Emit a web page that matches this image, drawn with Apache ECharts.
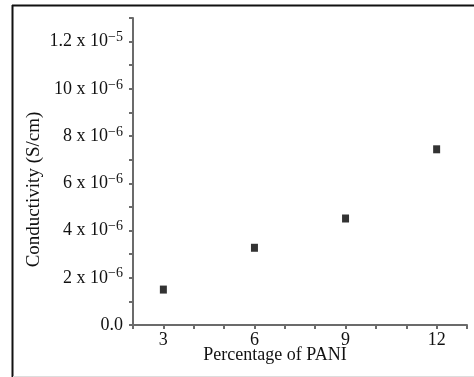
<!DOCTYPE html>
<html>
<head>
<meta charset="utf-8">
<script src="https://cdn.jsdelivr.net/npm/echarts@6/dist/echarts.min.js"></script>
<style>
  html, body { margin: 0; padding: 0; background: #fff; }
  #chart { width: 474px; height: 377px; }
</style>
</head>
<body>
<div id="chart"></div>
<script>
// PANI loading (%) and measured conductivity, stored in units of 10^-6 S/cm
const paniPercent = [3, 6, 9, 12];
const conductivityE6 = [1.50, 3.27, 4.51, 7.44];
const xTickLabels = [3, 6, 9, 12];
const yTickLabels = [0, 2, 4, 6, 8, 10, 12];

const serif = '"Liberation Serif", "DejaVu Serif", serif';

function yLabel(v) {
  const n = Math.round(v);
  if (!yTickLabels.includes(n) || Math.abs(v - n) > 1e-9) return '';
  if (n === 0) return '{b|0.0}';
  if (n === 12) return '{b|1.2 x 10}{s|\u22125}';
  return '{b|' + n + ' x 10}{s|\u22126}';
}

const chart = echarts.init(document.getElementById('chart'), null, { renderer: 'canvas' });
chart.setOption({
  animation: false,
  backgroundColor: '#fff',
  grid: { left: 133, top: 18, right: 7, bottom: 52, containLabel: false },
  xAxis: {
    type: 'value',
    min: 2, max: 13, interval: 1,
    name: 'Percentage of PANI',
    nameLocation: 'middle',
    nameGap: 21,
    nameMoveOverlap: false,
    nameTextStyle: { fontFamily: serif, fontSize: 18, color: '#111', padding: [0, 50, 0, 0] },
    axisLine: { show: true, lineStyle: { color: '#6b6b6b', width: 2 } },
    axisTick: { show: true, length: 4, lineStyle: { color: '#6b6b6b', width: 2 } },
    axisLabel: {
      margin: 6,
      fontFamily: serif, fontSize: 18, color: '#111',
      formatter: v => (xTickLabels.includes(v) ? String(v) : '')
    },
    splitLine: { show: false }
  },
  yAxis: {
    type: 'value',
    min: 0, max: 13, interval: 1,
    name: 'Conductivity (S/cm)',
    nameLocation: 'middle',
    nameGap: 89,
    nameMoveOverlap: false,
    nameRotate: 90,
    nameTextStyle: { fontFamily: serif, fontSize: 19, color: '#111', padding: [0, 36, 0, 0] },
    axisLine: { show: true, lineStyle: { color: '#6b6b6b', width: 2 } },
    axisTick: { show: true, length: 4, lineStyle: { color: '#6b6b6b', width: 2 } },
    axisLabel: {
      margin: 10,
      formatter: yLabel,
      rich: {
        b: { fontFamily: serif, fontSize: 18, color: '#111' },
        s: { fontFamily: serif, fontSize: 14, color: '#111', padding: [0, 0, 8, 0] }
      }
    },
    splitLine: { show: false }
  },
  series: [{
    type: 'scatter',
    symbol: 'rect',
    symbolSize: [7, 8],
    itemStyle: { color: '#000' },
    data: paniPercent.map((p, i) => [p, conductivityE6[i]])
  }],
  graphic: [
    { type: 'line', shape: { x1: 12.5, y1: 5, x2: 12.5, y2: 377 }, style: { stroke: '#111', lineWidth: 2 } },
    { type: 'line', shape: { x1: 12, y1: 5.5, x2: 474, y2: 5.5 }, style: { stroke: '#111', lineWidth: 2 } },
    { type: 'line', shape: { x1: 13, y1: 376.5, x2: 474, y2: 376.5 }, style: { stroke: '#ddd', lineWidth: 1 } }
  ]
});
</script>
</body>
</html>
